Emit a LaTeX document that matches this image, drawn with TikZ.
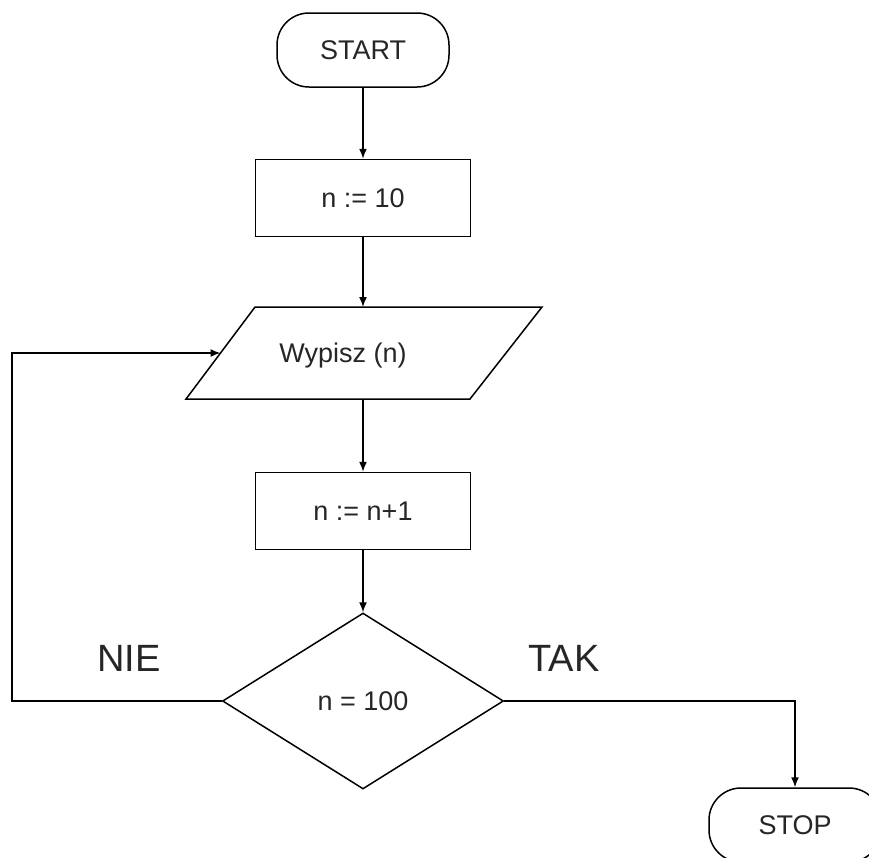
\documentclass[tikz,border=0pt]{standalone}
\usepackage{fontspec}
\setmainfont{Liberation Sans}
\usetikzlibrary{arrows.meta,shapes.geometric}

\begin{document}
\begin{tikzpicture}[x=1pt,y=-1pt,
  every node/.style={text=black!85},
  txt/.style={font=\fontsize{27}{32}\selectfont},
  bigtxt/.style={font=\fontsize{38}{44}\selectfont},
  terminal/.style={draw, line width=1.5pt, rounded corners=32pt,
    minimum width=172pt, minimum height=74pt, inner sep=0pt, txt},
  procbox/.style={draw, line width=1.5pt,
    minimum width=215pt, minimum height=77pt, inner sep=0pt, txt},
  decision/.style={draw, diamond, line width=1.5pt,
    minimum width=281pt, minimum height=176pt, inner sep=0pt, txt},
  arr/.style={line width=1.5pt, -{Latex[length=10pt,width=8pt]}}]

\useasboundingbox (0,0) rectangle (869,857);
\fill[white] (0,0) rectangle (869,857);

% start, assignment and increment
\node[terminal] (start) at (363,50) {START};
\node[procbox]  (init)  at (363,198) {n := 10};
\node[procbox]  (inc)   at (363,511) {n := n+1};

% output parallelogram
\coordinate (pTL) at (255,307);
\coordinate (pTR) at (542,307);
\coordinate (pBR) at (470,399);
\coordinate (pBL) at (186,399);
\coordinate (pTop) at (363,307);
\coordinate (pBot) at (363,399);
\coordinate (pL) at (220.5,353);
\draw[line width=1.5pt, line join=miter] (pTL) -- (pTR) -- (pBR) -- (pBL) -- cycle;
\node[txt] (wyp) at (343,356) {Wypisz (n)};

% condition and end
\node[decision] (dec) at (363,701) {n = 100};
\node[terminal] (stop) at (795,825) {STOP};

% branch labels
\node[bigtxt] (nie) at (129,658) {NIE};
\node[bigtxt] (tak) at (564,658) {TAK};

% connectors
\draw[arr] (start.south) -- (init.north);
\draw[arr] (init.south) -- (pTop);
\draw[arr] (pBot) -- (inc.north);
\draw[arr] (inc.south) -- (dec.north);
\coordinate (loop) at (12,353);
\draw[arr] (dec.west) -| (loop) -- (pL);
\draw[arr] (dec.east) -| (stop.north);

\end{tikzpicture}
\end{document}
